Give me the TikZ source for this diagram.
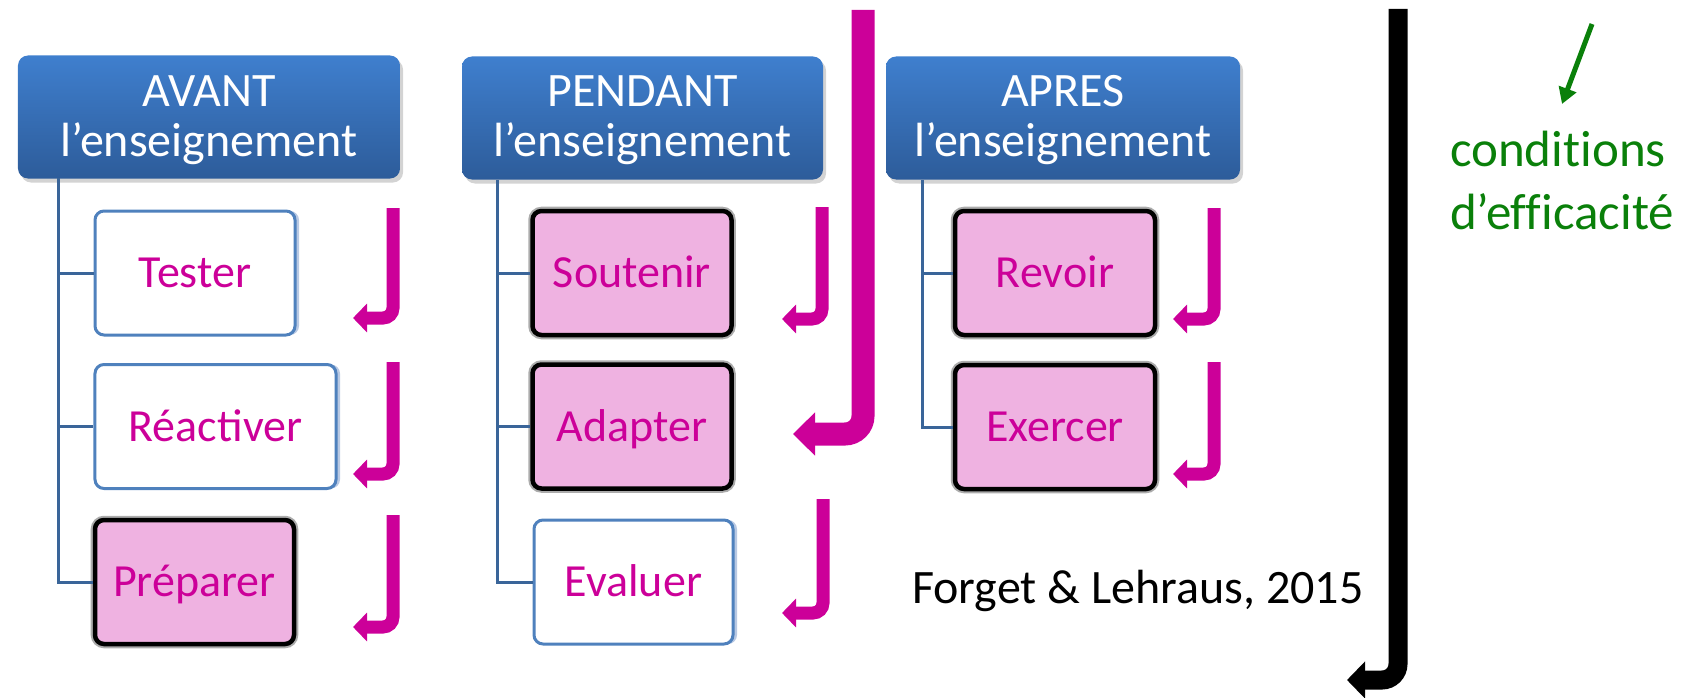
\documentclass[tikz,border=0pt]{standalone}
\usepackage{fontspec}
\setmainfont{Carlito}
\newfontfamily\nolig[Ligatures={NoCommon}]{Carlito}
\usetikzlibrary{arrows.meta,shadows}
\definecolor{hdrtop}{HTML}{3F7FCE}
\definecolor{hdrbot}{HTML}{2D5C9A}
\definecolor{boxblue}{HTML}{4F81BD}
\definecolor{boxshadow}{HTML}{B9C9E3}
\definecolor{treeblue}{HTML}{3A6599}
\definecolor{pinkfill}{HTML}{EFB2E1}
\definecolor{mag}{HTML}{CC0099}
\definecolor{grn}{HTML}{0A800A}
\begin{document}
\begin{tikzpicture}[x=1bp,y=-1bp,
  hdr/.style={rectangle, rounded corners=10bp, top color=hdrtop, bottom color=hdrbot, draw=none,
    minimum height=123bp, inner sep=0,
    drop shadow={opacity=0.35, shadow xshift=3bp, shadow yshift=-4bp}},
  htxt/.style={text=white, font=\fontsize{48bp}{50bp}\selectfont, anchor=base, inner sep=0},
  boxbase/.style={rectangle, rounded corners=9bp, minimum height=124bp, inner sep=0,
    text=mag, font=\fontsize{46bp}{55bp}\selectfont, text height=29.6bp, text depth=0bp},
  wbox/.style={boxbase, draw=boxblue, line width=3bp, fill=white,
    drop shadow={fill=boxshadow, opacity=1, shadow xshift=4bp, shadow yshift=0bp}},
  pbox/.style={boxbase, draw=black, line width=4.5bp, fill=pinkfill,
    preaction={draw=gray!65, line width=8.5bp}},
  tree/.style={draw=treeblue, line width=3bp},
  parr/.style={draw=mag, line width=13bp, rounded corners=10bp, -{Triangle[length=14bp, width=28bp]}},
  bigarr/.style={draw=mag, line width=23bp, rounded corners=18bp, -{Triangle[length=22bp, width=42bp]}},
  blkarr/.style={draw=black, line width=19bp, rounded corners=16bp, -{Triangle[length=18bp, width=36bp]}},
  garr/.style={draw=grn, line width=5bp, -{Triangle[length=16bp, width=18bp]}},
  gtxt/.style={text=grn, font=\nolig\fontsize{51bp}{62bp}\selectfont, anchor=base, inner sep=0},
  reftxt/.style={text=black, font=\fontsize{48bp}{58bp}\selectfont, anchor=base west, inner sep=0}
]
\useasboundingbox (0,0) rectangle (1691,698);

% headers
\node[hdr, minimum width=382bp] (avant) at (209,117) {};
\node[htxt] (avantA) at (209,107) {AVANT};
\node[htxt] (avantB) at (209,157) {l’enseignement};
\node[hdr, minimum width=361bp] (pendant) at (642.5,118) {};
\node[htxt] (pendantA) at (642.5,107) {PENDANT};
\node[htxt] (pendantB) at (642.5,157) {l’enseignement};
\node[hdr, minimum width=354bp] (apres) at (1063,118) {};
\node[htxt] (apresA) at (1063,107) {APRES};
\node[htxt] (apresB) at (1063,157) {l’enseignement};

% boxes
\node[wbox, minimum width=200bp] (tester) at (195,273) {Tester};
\node[wbox, minimum width=241bp] (reactiver) at (215.5,426.5) {Réactiver};
\node[pbox, minimum width=199bp] (preparer) at (194.5,582) {Préparer};
\node[pbox, minimum width=199bp] (soutenir) at (632,273) {Soutenir};
\node[pbox, minimum width=199bp] (adapter) at (632,426.5) {Adapter};
\node[wbox, minimum width=199bp] (evaluer) at (633.5,582) {Evaluer};
\node[pbox, minimum width=200bp] (revoir) at (1055,273) {Revoir};
\node[pbox, minimum width=200bp] (exercer) at (1055,427) {Exercer};

% tree lines
\coordinate (ta) at (58,178);
\coordinate (tp) at (497,180);
\coordinate (tr) at (922,180);
\draw[tree] (ta) |- (tester.west);
\draw[tree] (ta) |- (reactiver.west);
\draw[tree] (ta) |- (preparer.west);
\draw[tree] (tp) |- (soutenir.west);
\draw[tree] (tp) |- (adapter.west);
\draw[tree] (tp) |- (evaluer.west);
\draw[tree] (tr) |- (revoir.west);
\draw[tree] (tr) |- (exercer.west);

% small magenta arrows
\coordinate (a1s) at (393,208);  \coordinate (a1e) at (353,318);
\coordinate (a2s) at (393,362);  \coordinate (a2e) at (353,474);
\coordinate (a3s) at (393,515);  \coordinate (a3e) at (353,627);
\coordinate (b1s) at (822,207);  \coordinate (b1e) at (782,319);
\coordinate (b3s) at (823,499);  \coordinate (b3e) at (782,613);
\coordinate (c1s) at (1214,208); \coordinate (c1e) at (1173,319);
\coordinate (c2s) at (1214,362); \coordinate (c2e) at (1173,474);
\draw[parr] (a1s) |- (a1e);
\draw[parr] (a2s) |- (a2e);
\draw[parr] (a3s) |- (a3e);
\draw[parr] (b1s) |- (b1e);
\draw[parr] (b3s) |- (b3e);
\draw[parr] (c1s) |- (c1e);
\draw[parr] (c2s) |- (c2e);

% big arrows
\coordinate (bigs) at (863,10);   \coordinate (bige) at (793,434);
\draw[bigarr] (bigs) |- (bige);
\coordinate (blks) at (1398,9);   \coordinate (blke) at (1347,680);
\draw[blkarr] (blks) |- (blke);

% green annotation
\coordinate (gs) at (1592,24); \coordinate (ge) at (1562,104);
\draw[garr] (gs) -- (ge);
\node[gtxt] (cond) at (1558,167) {conditions};
\node[gtxt] (eff) at (1562,229) {d’efficacité};

% reference
\node[reftxt] (ref) at (912,603) {Forget \& Lehraus, 2015};
\end{tikzpicture}
\end{document}
